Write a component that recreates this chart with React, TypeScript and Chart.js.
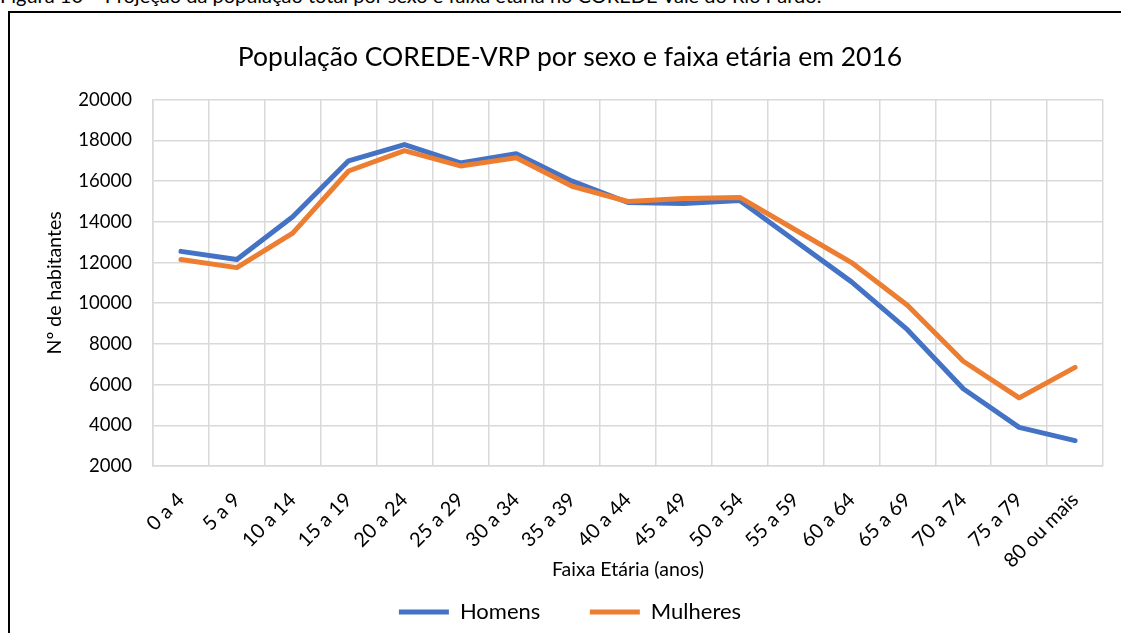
import { useEffect, useRef } from "react";
import { Chart, registerables } from "chart.js";

Chart.register(...registerables);

const categories = [
  "0 a 4", "5 a 9", "10 a 14", "15 a 19", "20 a 24", "25 a 29", "30 a 34", "35 a 39",
  "40 a 44", "45 a 49", "50 a 54", "55 a 59", "60 a 64", "65 a 69", "70 a 74", "75 a 79", "80 ou mais",
];
const homens = [12550, 12150, 14250, 17000, 17800, 16900, 17350, 16000, 14950, 14900, 15050, 13050, 11050, 8700, 5800, 3900, 3250];
const mulheres = [12150, 11750, 13450, 16500, 17500, 16750, 17150, 15750, 15000, 15150, 15200, 13600, 12000, 9900, 7150, 5350, 6850];
const yTickValues = [2000, 4000, 6000, 8000, 10000, 12000, 14000, 16000, 18000, 20000];

const FONT = "Lato, 'Open Sans', sans-serif";

// lets the rotated x labels extend below the axis box (they are clipped to it otherwise)
const extendXAxisBox = {
  id: "extendXAxisBox",
  afterLayout(chart: any) {
    const x = chart.scales.x;
    if (x) x.bottom = x.top + 130;
  },
};

export default function App() {
  const ref = useRef<HTMLCanvasElement | null>(null);

  useEffect(() => {
    if (!ref.current) return;
    const chart = new Chart(ref.current, {
      type: "line",
      data: {
        labels: categories,
        datasets: [
          {
            label: "Homens",
            data: homens,
            borderColor: "#4472C4",
            backgroundColor: "#4472C4",
            borderWidth: 5,
            borderCapStyle: "round",
            borderJoinStyle: "round",
            pointRadius: 0,
            pointHoverRadius: 0,
            pointStyle: "line",
            tension: 0,
            order: 1,
          },
          {
            label: "Mulheres",
            data: mulheres,
            borderColor: "#ED7D31",
            backgroundColor: "#ED7D31",
            borderWidth: 5,
            borderCapStyle: "round",
            borderJoinStyle: "round",
            pointRadius: 0,
            pointHoverRadius: 0,
            pointStyle: "line",
            tension: 0,
            order: 0,
          },
        ],
      },
      plugins: [extendXAxisBox],
      options: {
        animation: false,
        responsive: false,
        maintainAspectRatio: false,
        layout: { padding: { left: 27, right: 18, top: 0, bottom: 0 } },
        plugins: {
          tooltip: { enabled: false },
          title: {
            display: true,
            text: "População COREDE-VRP por sexo e faixa etária em 2016",
            color: "#000",
            font: { family: FONT, size: 26.5, weight: "normal", lineHeight: 1.2 },
            padding: { top: 29, bottom: 26 },
          },
          legend: {
            display: true,
            position: "bottom",
            labels: {
              usePointStyle: true,
              pointStyleWidth: 50,
              padding: 49.5,
              color: "#000",
              font: { family: FONT, size: 22 },
              sort: (a: any, b: any) => a.datasetIndex - b.datasetIndex,
            },
          },
        },
        scales: {
          x: {
            type: "category",
            offset: true,
            grid: { display: true, offset: true, color: "#d9d9d9", lineWidth: 1.5, drawTicks: false },
            border: { display: true, color: "#d9d9d9", width: 1.5 },
            ticks: {
              autoSkip: false,
              minRotation: 45,
              maxRotation: 45,
              padding: 22,
              color: "#000",
              font: { family: FONT, size: 20 },
            },
            title: {
              display: true,
              text: "Faixa Etária (anos)",
              color: "#000",
              font: { family: FONT, size: 19.5, lineHeight: 1.2 },
              padding: { top: 0, bottom: 14.3 },
            },
            afterFit: (scale: any) => {
              scale.height = 85.5;
            },
          },
          y: {
            type: "linear",
            min: 2000,
            max: 20000,
            afterBuildTicks: (scale: any) => {
              scale.ticks = yTickValues.map((v) => ({ value: v }));
            },
            grid: { color: "#d9d9d9", lineWidth: 1.5, drawTicks: false },
            border: { display: true, color: "#d9d9d9", width: 1.5 },
            ticks: {
              padding: 21,
              color: "#000",
              font: { family: FONT, size: 18.5 },
              callback: (v: any) => String(v),
            },
            title: {
              display: true,
              text: "Nº de habitantes",
              color: "#000",
              font: { family: FONT, size: 19.5, lineHeight: 1.2 },
              padding: { top: 6.5, bottom: 0 },
            },
            afterFit: (scale: any) => {
              scale.width = 116;
            },
          },
        },
      },
    });
    return () => chart.destroy();
  }, []);

  return (
    <div style={{ position: "absolute", left: 0, top: 0, width: 1121, height: 633, overflow: "hidden", background: "#fff" }}>
      <div
        style={{
          position: "absolute",
          left: 0,
          top: -14.7,
          fontFamily: FONT,
          fontSize: 20,
          lineHeight: "20px",
          whiteSpace: "nowrap",
          color: "#000",
        }}
      >
        Figura 10 – Projeção da população total por sexo e faixa etária no COREDE Vale do Rio Pardo.
      </div>
      <div
        style={{
          position: "absolute",
          left: 8,
          top: 11,
          width: 1200,
          height: 700,
          borderLeft: "2px solid #000",
          borderTop: "2px solid #000",
          boxSizing: "border-box",
        }}
      >
        <canvas ref={ref} width={1111} height={620} style={{ display: "block", width: 1111, height: 620 }} />
      </div>
    </div>
  );
}
